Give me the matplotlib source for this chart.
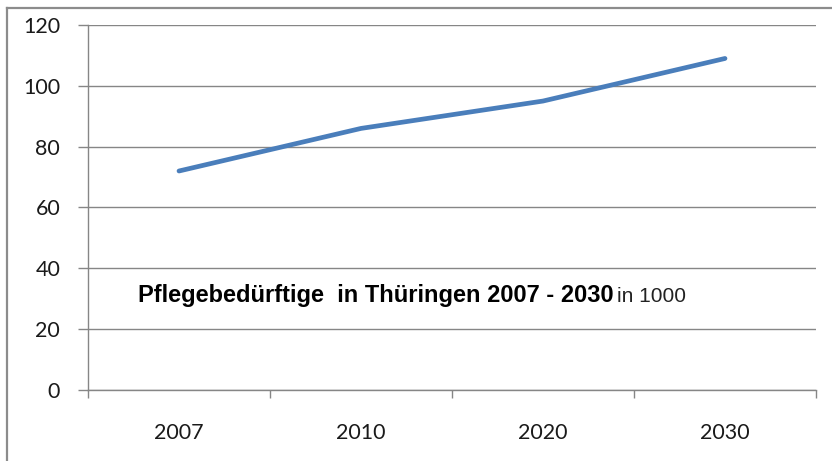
import matplotlib
matplotlib.use("Agg")
import matplotlib.pyplot as plt
from matplotlib.lines import Line2D

categories = ["2007", "2010", "2020", "2030"]
values = [72, 86, 95, 109]
yticks = [0, 20, 40, 60, 80, 100, 120]

W, H = 832, 461
fig = plt.figure(figsize=(W / 100, H / 100), dpi=100)
fig.patch.set_facecolor("white")

# outer frame (top and left visible)
fig.add_artist(Line2D([7 / W, 7 / W], [0, 1 - 8 / H], color="#8c8c8c", lw=1.6))
fig.add_artist(Line2D([7 / W, 1.0], [1 - 8 / H, 1 - 8 / H], color="#8c8c8c", lw=1.6))

ax = fig.add_axes([88 / W, 1 - 390 / H, (816 - 88) / W, (390 - 25) / H])
x = list(range(len(categories)))
ax.plot(x, values, color="#4A7EBB", lw=3.4, solid_capstyle="round")

ax.set_xlim(-0.5, len(categories) - 0.5)
ax.set_ylim(0, 120)
ax.set_yticks(yticks)
ax.set_xticks(x)
ax.set_xticklabels(categories)
ax.set_xticks([i - 0.5 for i in range(len(categories) + 1)], minor=True)
ax.tick_params(axis="x", which="major", length=0, pad=24)
ax.tick_params(axis="x", which="minor", length=6, color="#868686", width=1)
ax.tick_params(axis="y", length=7, color="#868686", width=1, pad=13)
for lab in ax.get_xticklabels() + ax.get_yticklabels():
    lab.set_fontfamily("Lato")
    lab.set_fontsize(15.5)
    lab.set_color("#1a1a1a")

ax.grid(axis="y", color="#868686", lw=1)
ax.set_axisbelow(True)
for s in ["top", "right"]:
    ax.spines[s].set_visible(False)
for s in ["left", "bottom"]:
    ax.spines[s].set_color("#868686")
    ax.spines[s].set_linewidth(1)

ybase = (390 - 302) / 365
ax.text((138 - 88) / 728, ybase, "Pflegebedürftige  in Thüringen 2007 - 2030",
        transform=ax.transAxes, fontfamily="Liberation Sans", fontweight="bold",
        fontsize=17, va="baseline", ha="left", color="black")
ax.text((617 - 88) / 728, ybase, "in 1000",
        transform=ax.transAxes, fontfamily="Liberation Sans",
        fontsize=15, va="baseline", ha="left", color="#222222")

fig.savefig("out.png", dpi=100)
